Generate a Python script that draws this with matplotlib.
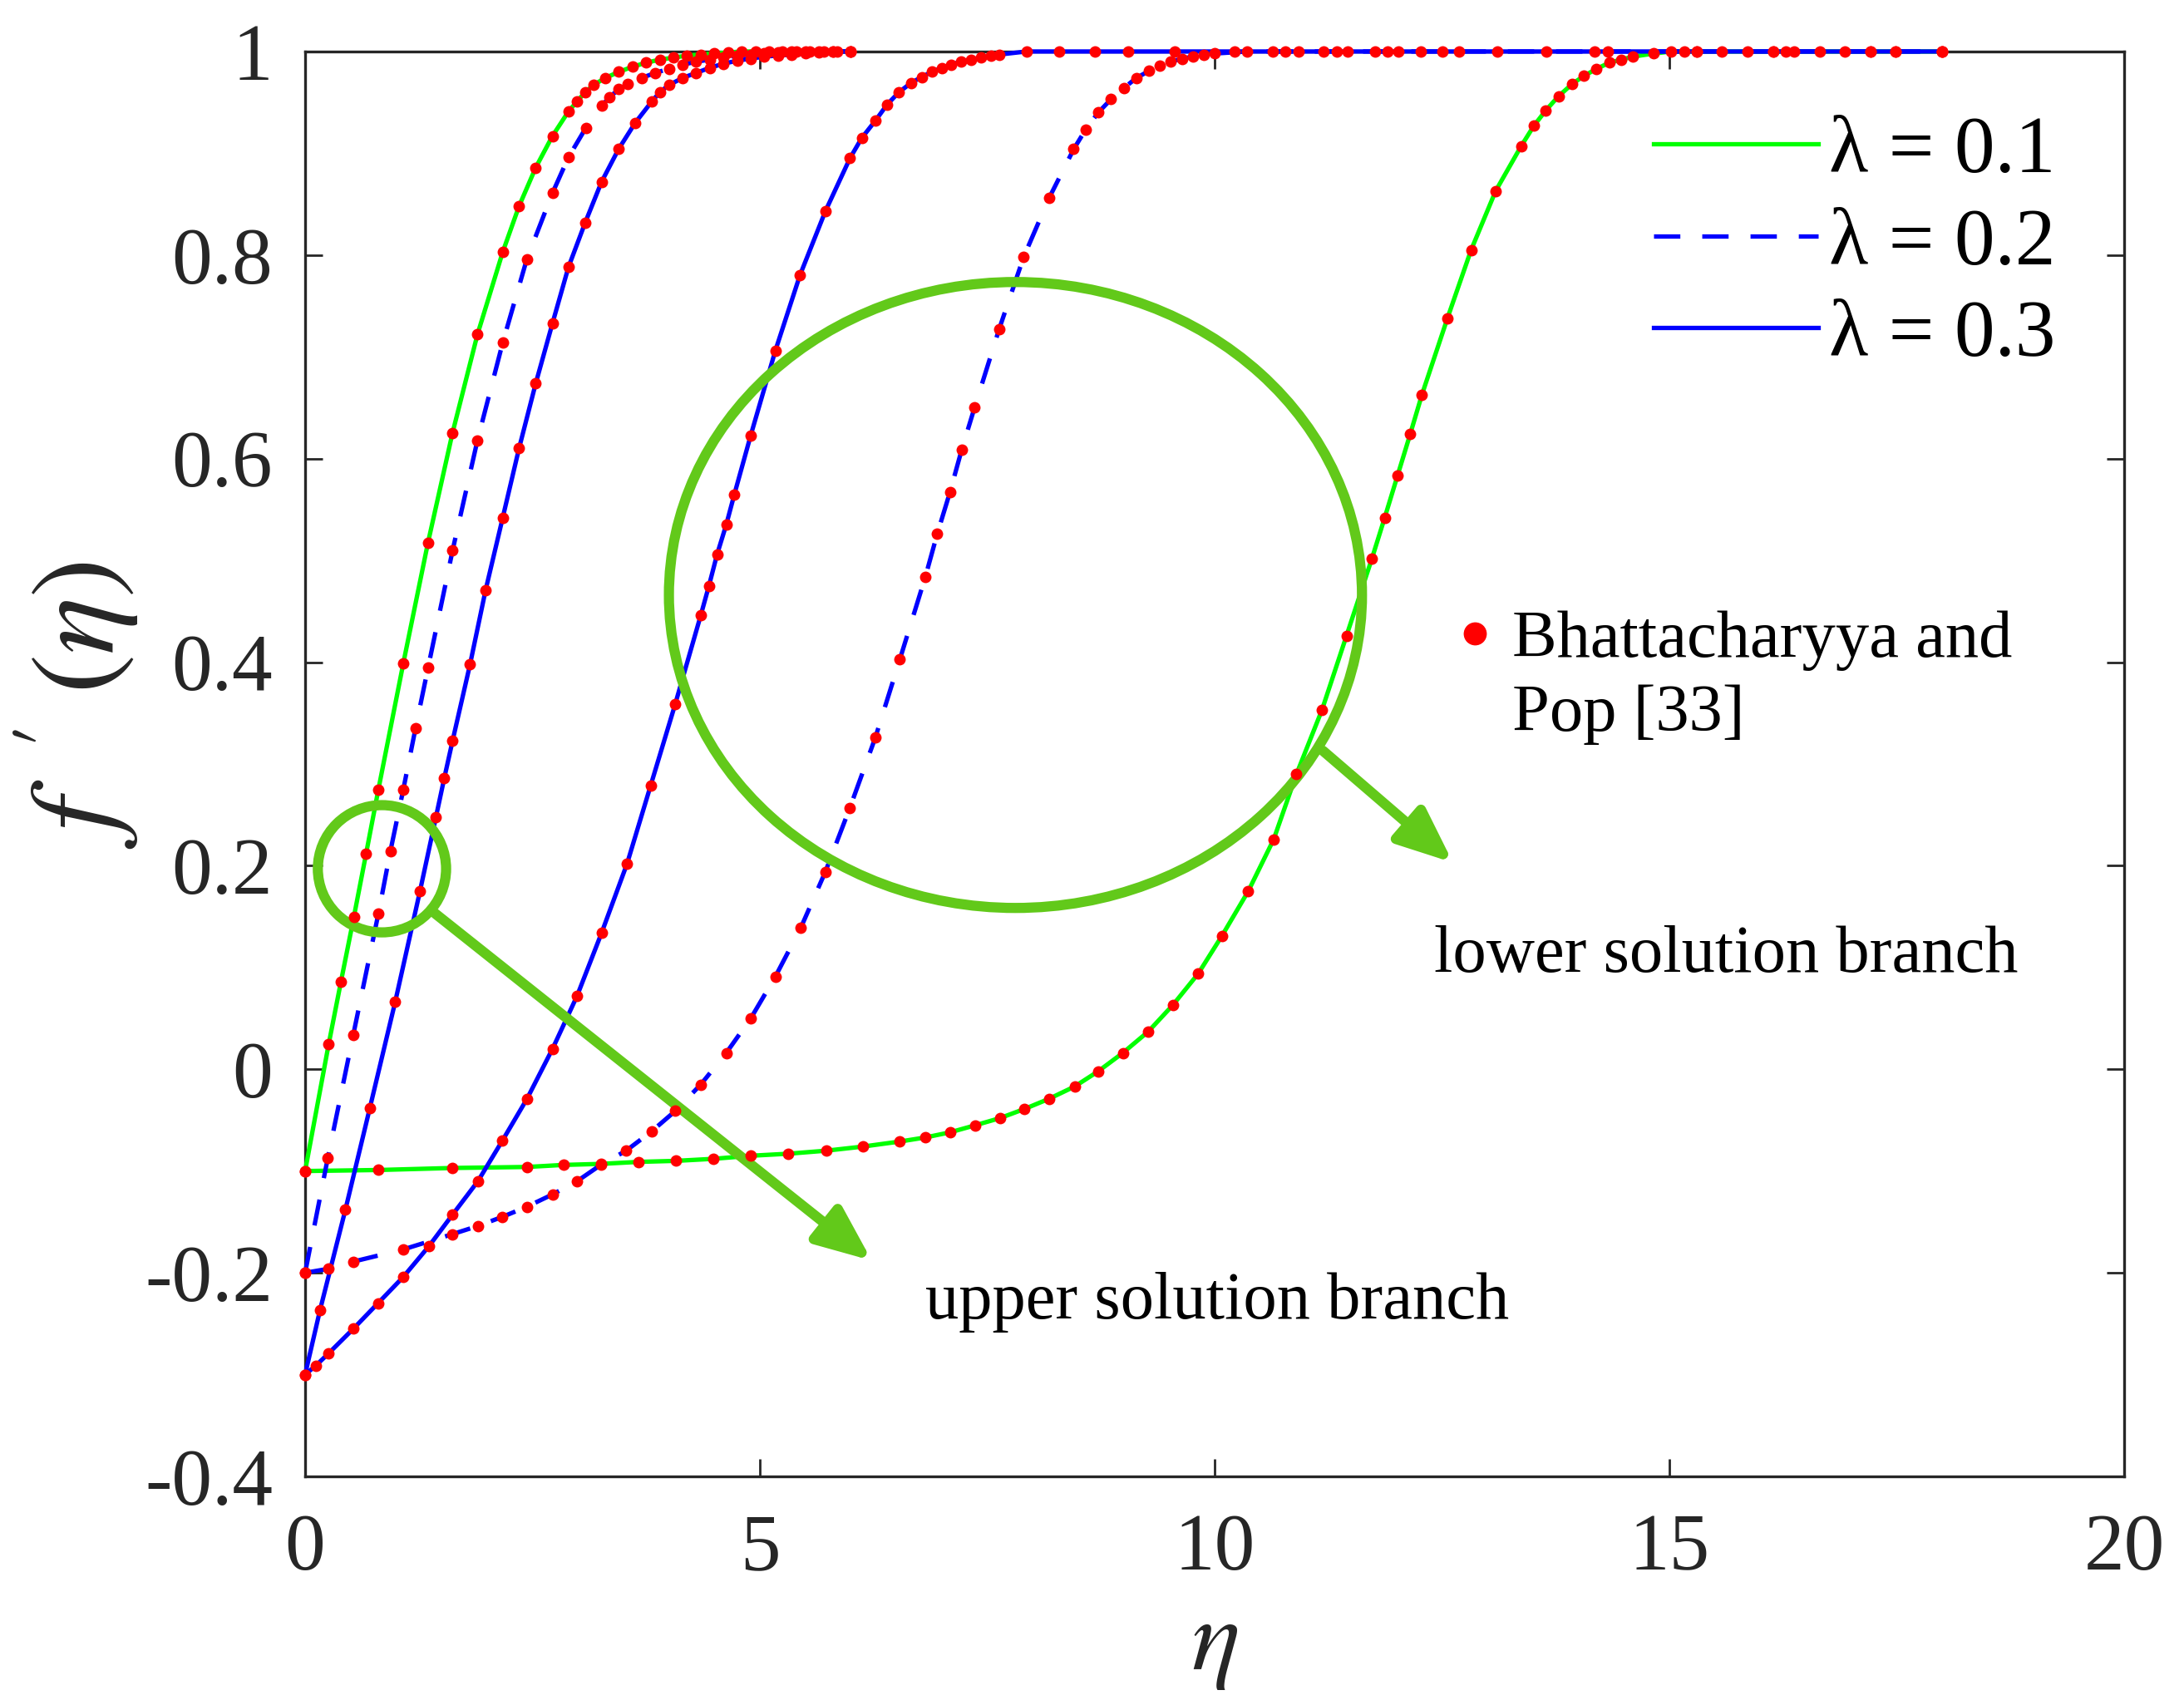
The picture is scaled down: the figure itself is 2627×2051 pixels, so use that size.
import matplotlib
matplotlib.use("Agg")
import matplotlib.pyplot as plt
from matplotlib.patches import Ellipse
from matplotlib.lines import Line2D

plt.rcParams["font.family"] = "serif"
plt.rcParams["font.serif"] = ["Liberation Serif", "DejaVu Serif"]
plt.rcParams["mathtext.fontset"] = "stix"

# ---- values ------------------------------------------------------------------
# upper solution branch, lambda = 0.1
eta_u1 = [0.00, 0.26, 0.394, 0.537, 0.671, 0.806, 1.08, 1.35, 1.62, 1.895, 2.173,
          2.352, 2.536, 2.72, 2.895, 2.99, 3.08, 3.17, 3.30, 3.45, 3.60, 3.75, 3.90,
          4.05, 4.20, 4.35, 4.50, 4.65, 4.80, 4.95, 5.10, 5.25, 5.40, 5.55, 5.70,
          5.85, 6.00]
fp_u1 = [-0.100, 0.025, 0.086, 0.150, 0.212, 0.275, 0.399, 0.517, 0.625, 0.722, 0.803,
         0.848, 0.886, 0.917, 0.941, 0.951, 0.960, 0.967, 0.974, 0.980, 0.985, 0.989, 0.992,
         0.994, 0.996, 0.997, 0.998, 0.999, 1.0, 1.0, 1.0, 1.0, 1.0, 1.0, 1.0,
         1.0, 1.0]

# upper solution branch, lambda = 0.2
eta_u2 = [0.00, 0.25, 0.53, 0.806, 0.937, 1.08, 1.214, 1.353, 1.622, 1.895, 2.173,
          2.438, 2.72, 2.895, 3.087, 3.26, 3.35, 3.446, 3.55, 3.70, 3.85, 4.00, 4.15,
          4.30, 4.45, 4.60, 4.75, 4.90, 5.05, 5.20, 5.35, 5.50, 5.65, 5.80, 6.00]
fp_u2 = [-0.200, -0.087, 0.034, 0.153, 0.214, 0.275, 0.335, 0.395, 0.510, 0.618, 0.714,
         0.796, 0.861, 0.896, 0.925, 0.947, 0.955, 0.963, 0.968, 0.974, 0.979, 0.983, 0.987,
         0.990, 0.992, 0.994, 0.996, 0.997, 0.998, 0.999, 1.0, 1.0, 1.0, 1.0, 1.0]

# upper solution branch, lambda = 0.3
eta_u3 = [0.00, 0.163, 0.443, 0.712, 0.99, 1.263, 1.439, 1.53, 1.622, 1.814, 1.985,
          2.173, 2.352, 2.536, 2.72, 2.895, 3.08, 3.26, 3.446, 3.63, 3.813, 3.90, 4.00,
          4.15, 4.30, 4.45, 4.60, 4.75, 4.90, 5.05, 5.20, 5.35, 5.50, 5.65, 5.80, 6.00]
fp_u3 = [-0.300, -0.237, -0.138, -0.038, 0.066, 0.175, 0.248, 0.286, 0.323, 0.398, 0.471,
         0.542, 0.610, 0.674, 0.733, 0.788, 0.832, 0.872, 0.904, 0.930, 0.951, 0.960, 0.967,
         0.974, 0.979, 0.984, 0.988, 0.991, 0.993, 0.995, 0.996, 0.997, 0.998, 0.999, 1.0, 1.0]

# lower solution branch, lambda = 0.1
eta_l1 = [0.00, 0.80, 1.62, 2.44, 2.84, 3.25, 3.67, 4.08, 4.49, 4.90, 5.31, 5.73, 6.13,
          6.54, 6.82, 7.09, 7.37, 7.64, 7.91, 8.18, 8.46, 8.72, 8.99, 9.27, 9.54, 9.82,
          10.08, 10.37, 10.65, 10.90, 11.18, 11.45, 11.73, 11.87, 12.01, 12.15, 12.28,
          12.56, 12.82, 13.09, 13.37, 13.51, 13.64, 13.78, 13.93, 14.06, 14.20, 14.34,
          14.47, 14.60, 14.83, 15.02, 15.30, 15.58, 15.86, 16.14, 16.37, 16.65, 16.93,
          17.21, 17.49, 18.00]
fp_l1 = [-0.100, -0.099, -0.097, -0.096, -0.094, -0.093, -0.091, -0.090, -0.088, -0.085,
         -0.083, -0.080, -0.076, -0.071, -0.067, -0.062, -0.055, -0.048, -0.039, -0.029,
         -0.017, -0.002, 0.016, 0.037, 0.063, 0.094, 0.131, 0.175, 0.226, 0.290, 0.353,
         0.426, 0.502, 0.542, 0.583, 0.624, 0.663, 0.738, 0.805, 0.863, 0.907, 0.927,
         0.942, 0.956, 0.968, 0.976, 0.983, 0.989, 0.992, 0.995, 0.998, 1.0, 1.0, 1.0,
         1.0, 1.0, 1.0, 1.0, 1.0, 1.0, 1.0, 1.0]

# lower solution branch, lambda = 0.2
eta_l2 = [0.00, 0.26, 0.53, 1.08, 1.62, 1.90, 2.17, 2.44, 2.72, 2.99, 3.25, 3.53, 3.81,
          4.07, 4.35, 4.63, 4.90, 5.17, 5.45, 5.72, 5.99, 6.27, 6.54, 6.82, 6.95, 7.09,
          7.22, 7.36, 7.63, 7.90, 8.18, 8.45, 8.58, 8.72, 8.86, 9.00, 9.14, 9.28, 9.40,
          9.52, 9.64, 9.76, 9.88, 10.00, 10.36, 10.64, 10.92, 11.20, 11.46, 11.76, 12.02,
          12.27, 12.69, 13.65, 14.32, 15.30, 16.28, 17.49, 18.00]
fp_l2 = [-0.200, -0.196, -0.189, -0.177, -0.162, -0.154, -0.145, -0.135, -0.123, -0.110,
         -0.094, -0.080, -0.061, -0.041, -0.015, 0.016, 0.050, 0.091, 0.139, 0.194, 0.257,
         0.326, 0.403, 0.484, 0.526, 0.567, 0.609, 0.650, 0.727, 0.798, 0.856, 0.904,
         0.923, 0.940, 0.953, 0.964, 0.974, 0.981, 0.986, 0.990, 0.993, 0.995, 0.997,
         0.998, 1.0, 1.0, 1.0, 1.0, 1.0, 1.0, 1.0, 1.0, 1.0, 1.0, 1.0, 1.0, 1.0, 1.0, 1.0]

# lower solution branch, lambda = 0.3
eta_l3 = [0.00, 0.12, 0.26, 0.53, 0.80, 1.08, 1.36, 1.62, 1.90, 2.17, 2.44, 2.72, 2.99,
          3.26, 3.54, 3.80, 4.07, 4.35, 4.44, 4.53, 4.63, 4.72, 4.90, 5.17, 5.44, 5.72,
          5.99, 6.12, 6.27, 6.40, 6.53, 6.66, 6.78, 6.89, 7.00, 7.10, 7.21, 7.32, 7.43,
          7.54, 7.63, 7.93, 8.29, 8.68, 9.05, 9.56, 10.22, 10.78, 11.34, 11.90, 12.50,
          13.11, 14.18, 15.16, 16.14, 17.21, 18.00]
fp_l3 = [-0.300, -0.291, -0.279, -0.255, -0.230, -0.204, -0.174, -0.143, -0.110, -0.070,
         -0.029, 0.020, 0.072, 0.134, 0.202, 0.279, 0.359, 0.446, 0.475, 0.506, 0.535,
         0.565, 0.623, 0.706, 0.780, 0.843, 0.895, 0.915, 0.932, 0.948, 0.960, 0.969,
         0.975, 0.980, 0.984, 0.987, 0.990, 0.992, 0.994, 0.996, 0.997, 1.0, 1.0, 1.0,
         1.0, 1.0, 1.0, 1.0, 1.0, 1.0, 1.0, 1.0, 1.0, 1.0, 1.0, 1.0, 1.0]

lam_labels = ["λ = 0.1", "λ = 0.2", "λ = 0.3"]
ref_label = ["Bhattacharyya and", "Pop [33]"]
x_ticks = [0, 5, 10, 15, 20]
y_ticks = [1, 0.8, 0.6, 0.4, 0.2, 0, -0.2, -0.4]
y_ticklabels = ["1", "0.8", "0.6", "0.4", "0.2", "0", "-0.2", "-0.4"]

GREEN = "#00ff00"
BLUE = "#0000ff"
RED = "#ff0000"
ANNOT = "#62c91a"
AXC = "#262626"

# ---- figure -------------------------------------------------------------------
fig = plt.figure(figsize=(13.135, 10.255), dpi=200)
ax = fig.add_axes([0.1397, 0.1341, 0.8329, 0.8357])

lw = 1.9
dash = (0, (6, 5))
h1, = ax.plot(eta_l1, fp_l1, color=GREEN, lw=lw, zorder=3, clip_on=False)
ax.plot(eta_u1, fp_u1, color=GREEN, lw=lw, zorder=3, clip_on=False)
h2, = ax.plot(eta_l2, fp_l2, color=BLUE, lw=lw, ls=dash, zorder=3, clip_on=False)
ax.plot(eta_u2, fp_u2, color=BLUE, lw=lw, ls=dash, zorder=3, clip_on=False)
h3, = ax.plot(eta_l3, fp_l3, color=BLUE, lw=lw, zorder=3, clip_on=False)
ax.plot(eta_u3, fp_u3, color=BLUE, lw=lw, zorder=3, clip_on=False)

for xs, ys in [(eta_u1, fp_u1), (eta_u2, fp_u2), (eta_u3, fp_u3),
               (eta_l1, fp_l1), (eta_l2, fp_l2), (eta_l3, fp_l3)]:
    ax.plot(xs, ys, ls="none", marker="o", ms=5.0, mfc=RED, mec="none",
            zorder=6, clip_on=False)

# annotation circles + arrows
ax.add_patch(Ellipse((7.81, 0.466), 7.62, 0.615, fill=False, ec=ANNOT, lw=4.4, zorder=5))
ax.add_patch(Ellipse((0.845, 0.197), 1.41, 0.125, fill=False, ec=ANNOT, lw=4.4, zorder=5))
arrow = dict(arrowstyle="-|>,head_length=0.9,head_width=0.38", color=ANNOT, lw=4.4,
             shrinkA=0, shrinkB=0, mutation_scale=22)
ax.annotate("", xy=(6.23, -0.188), xytext=(1.43, 0.153), arrowprops=arrow, zorder=5)
ax.annotate("", xy=(12.62, 0.203), xytext=(11.19, 0.313), arrowprops=arrow, zorder=5)

ax.text(6.82, -0.245, "upper solution branch", fontsize=29, va="baseline")
ax.text(12.41, 0.096, "lower solution branch", fontsize=29, va="baseline")

# legends
leg1 = ax.legend([h1, h2, h3], lam_labels, loc="upper left",
                 bbox_to_anchor=(0.7415, 0.955), frameon=False, fontsize=35,
                 handlelength=2.03, handletextpad=0.14, labelspacing=0.22,
                 borderpad=0, borderaxespad=0)
ax.add_artist(leg1)
dot = Line2D([], [], ls="none", marker="o", ms=10, mfc=RED, mec="none")
ax.legend([dot], ref_label[:1], loc="upper left", bbox_to_anchor=(0.632, 0.608),
          frameon=False, fontsize=29, handlelength=0.6, handletextpad=0.26,
          borderpad=0, borderaxespad=0)
ax.text(13.27, 0.333, ref_label[1], fontsize=29, va="baseline")

# axes styling (MATLAB-like box)
ax.set_xlim(0, 20)
ax.set_ylim(-0.4, 1)
ax.set_xticks(x_ticks)
ax.set_yticks(y_ticks)
ax.set_yticklabels(y_ticklabels)
ax.tick_params(direction="in", top=True, right=True, length=7.4, width=1.0,
               labelsize=35, colors=AXC)
ax.tick_params(axis="x", pad=16)
ax.tick_params(axis="y", pad=14)
for sp in ax.spines.values():
    sp.set_linewidth(1.2)
    sp.set_color(AXC)

ax.set_xlabel(r"$\eta$", fontsize=44, color=AXC)
ax.set_ylabel(r"$f\;\;'\;(\eta)$", fontsize=52, color=AXC)
ax.xaxis.set_label_coords(0.5, -0.086)
ax.yaxis.set_label_coords(-0.1257, 0.5414)
ax.yaxis.label.set_va("center")

fig.savefig("out.png", dpi=200)
